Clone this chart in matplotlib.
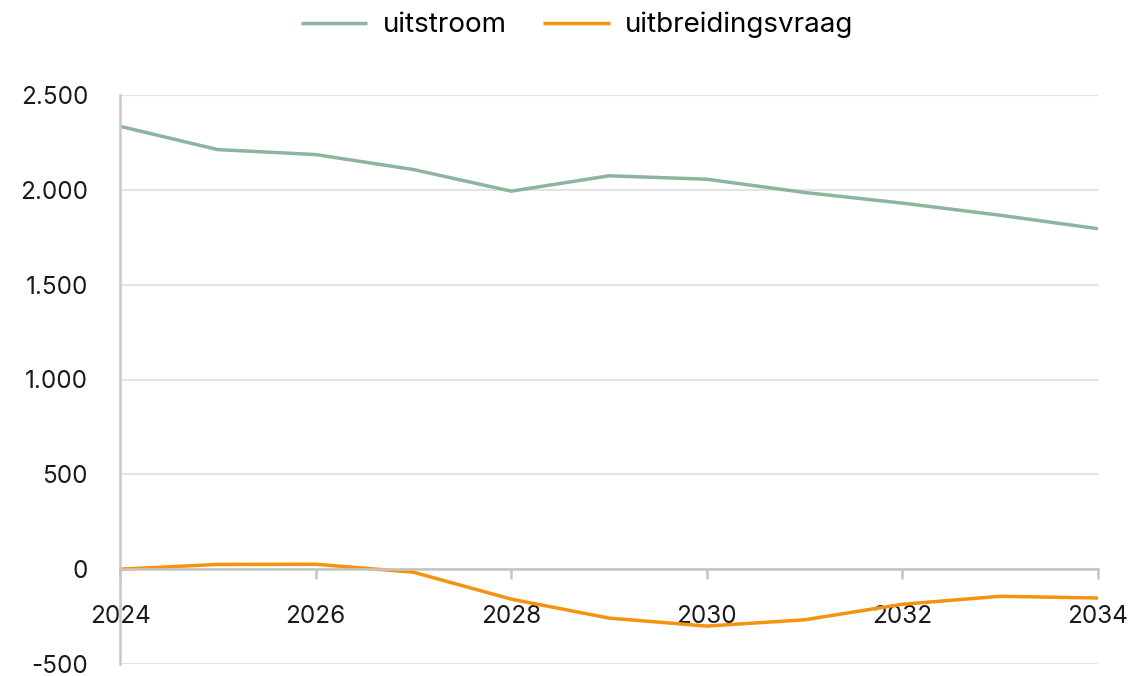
import matplotlib.pyplot as plt

plt.rcParams['font.family'] = ['Inter', 'DejaVu Sans']

years = [2024, 2025, 2026, 2027, 2028, 2029, 2030, 2031, 2032, 2033, 2034]
uitstroom = [2335, 2212, 2186, 2107, 1993, 2074, 2056, 1986, 1930, 1866, 1795]
uitbreidingsvraag = [0, 25, 26, -16, -158, -258, -300, -267, -185, -143, -152]
y_ticks = [-500, 0, 500, 1000, 1500, 2000, 2500]
y_labels = ['-500', '0', '500', '1.000', '1.500', '2.000', '2.500']
x_ticks = [2024, 2026, 2028, 2030, 2032, 2034]

fig = plt.figure(figsize=(11.34, 6.76), dpi=100)
ax = fig.add_axes([120 / 1134, 12 / 676, 978 / 1134, 569 / 676])

ax.plot(years, uitstroom, color='#8DB49C', linewidth=2.5, label='uitstroom', solid_capstyle='butt')
ax.plot(years, uitbreidingsvraag, color='#F5920F', linewidth=2.5, label='uitbreidingsvraag', solid_capstyle='butt')

ax.set_xlim(2024, 2034)
ax.set_ylim(-500, 2500)
ax.set_yticks(y_ticks)
ax.set_yticklabels(y_labels)
ax.set_xticks(x_ticks)
ax.set_xticklabels([str(x) for x in x_ticks])

ax.grid(axis='y', color='#e4e4e4', linewidth=1.5)
ax.set_axisbelow(True)

for s in ['top', 'right']:
    ax.spines[s].set_visible(False)
ax.spines['bottom'].set_position(('data', 0))
ax.spines['bottom'].set_color('#c4c4c4')
ax.spines['bottom'].set_linewidth(1.8)
ax.spines['left'].set_color('#c8c8c8')
ax.spines['left'].set_linewidth(1.8)

ax.tick_params(axis='x', direction='out', length=7, width=1.8, color='#c4c4c4', pad=19,
               labelsize=17.5, labelcolor='#1a1a1a')
ax.tick_params(axis='y', length=0, pad=23, labelsize=17.5, labelcolor='#1a1a1a')

fig.legend(loc='center', bbox_to_anchor=(577 / 1134, 1 - 25 / 676), ncol=2, frameon=False,
           fontsize=20, handlelength=2.4, columnspacing=1.3, handletextpad=0.55)

fig.savefig('out.png', dpi=100)
